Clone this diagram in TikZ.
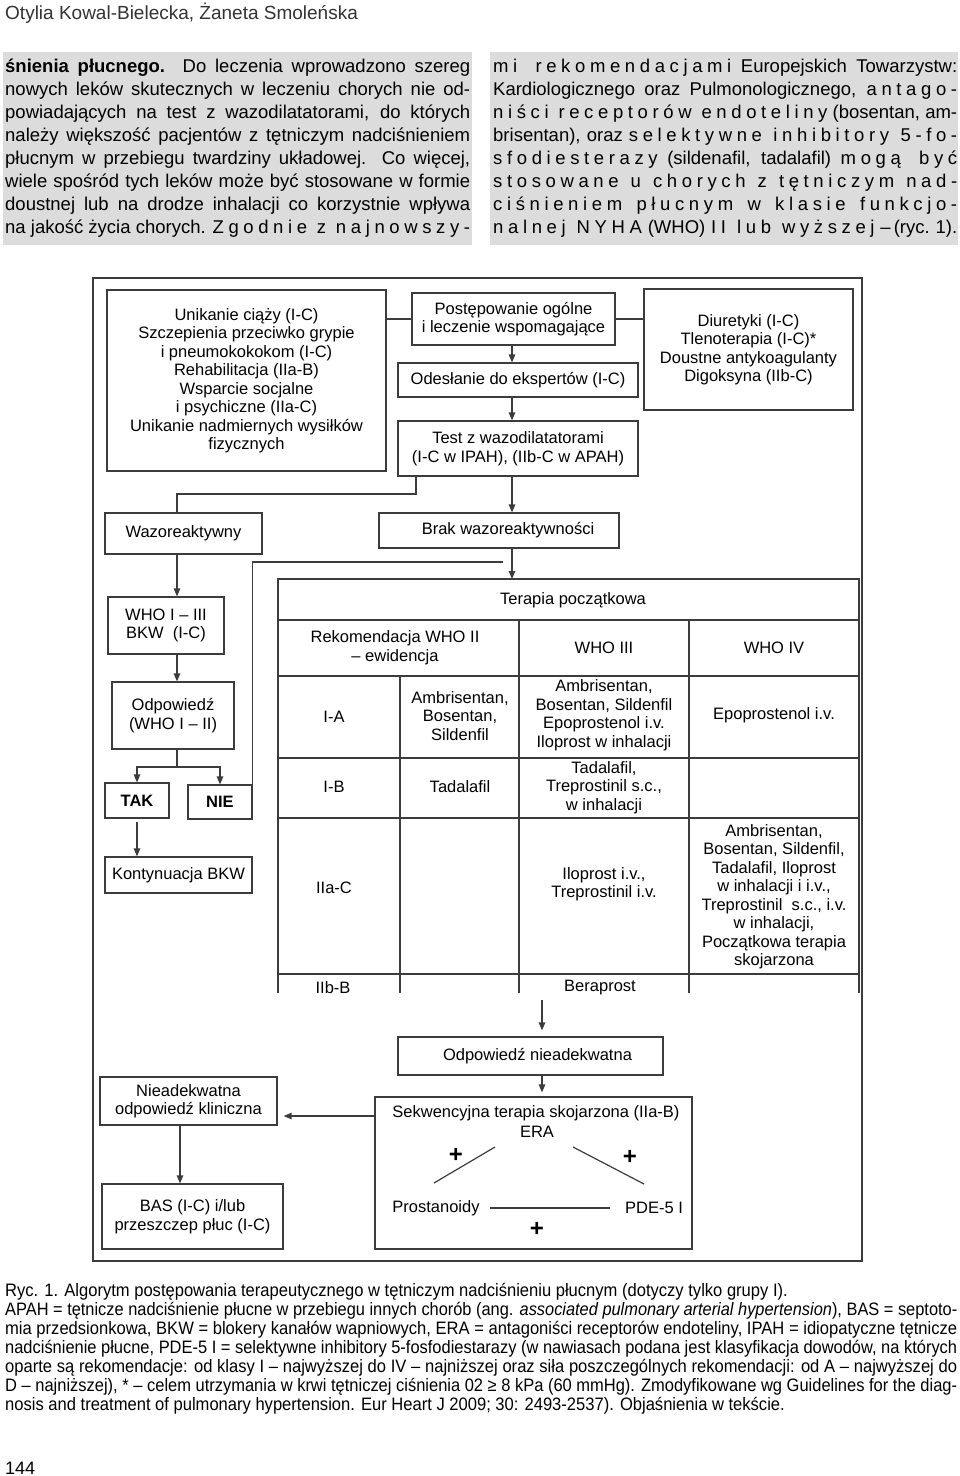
\documentclass[tikz,border=0pt]{standalone}
\usepackage{fontspec}
\usepackage{graphicx}
\setmainfont{Liberation Sans}
\newfontfamily\spaced[LetterSpace=25]{Liberation Sans}
\newfontfamily\narrow[FakeStretch=0.92]{Liberation Sans}
\usetikzlibrary{arrows.meta}
\definecolor{ln}{HTML}{3C3C3C}
\definecolor{bgshade}{HTML}{DCDCDC}
\definecolor{hdr}{HTML}{333333}
\newsavebox\lnbox
\newcommand\jline[2]{\sbox\lnbox{#2}\ifdim\wd\lnbox>#1\relax\resizebox{#1}{\height}{\usebox\lnbox}\else\hbox to #1{#2}\fi}
\begin{document}
\begin{tikzpicture}[x=1pt,y=-1pt, font=\fontsize{16.5}{18.5}\selectfont,
  boxn/.style={draw=ln, line width=1.2pt, inner sep=0pt, align=center},
  arrw/.style={draw=ln, line width=1.2pt, -{Triangle[length=8pt,width=6.5pt]}},
  conn/.style={draw=ln, line width=1.2pt},
  coltxt/.style={anchor=base west, inner sep=0pt, font=\fontsize{18.5}{22}\selectfont},
  captxt/.style={anchor=base west, inner sep=0pt, font=\narrow\fontsize{18}{19}\selectfont},
  celltxt/.style={inner sep=0pt, align=center},
  plustxt/.style={inner sep=0pt, font=\fontsize{24}{24}\selectfont\bfseries}]
\useasboundingbox (0,0) rectangle (960,1476);
\fill[white] (0,0) rectangle (960,1476);
% header
\node[anchor=base west, inner sep=0pt, text=hdr, font=\fontsize{19}{22}\selectfont] (hd) at (5,19) {Otylia Kowal-Bielecka, Żaneta Smoleńska};
% shaded columns
\fill[bgshade] (3,52) rectangle (472,245);
\fill[bgshade] (490,52) rectangle (958,245);
\node[coltxt] (l1) at (5,72) {\jline{465pt}{\textbf{śnienia płucnego.} Do leczenia wprowadzono szereg}};
\node[coltxt] (l2) at (5,95) {\jline{465pt}{nowych leków skutecznych w leczeniu chorych nie od-}};
\node[coltxt] (l3) at (5,118) {\jline{465pt}{powiadających na test z wazodilatatorami, do których}};
\node[coltxt] (l4) at (5,141) {\jline{465pt}{należy większość pacjentów z tętniczym nadciśnieniem}};
\node[coltxt] (l5) at (5,164) {\jline{465pt}{płucnym w przebiegu twardziny układowej. Co więcej,}};
\node[coltxt] (l6) at (5,187) {\jline{465pt}{wiele spośród tych leków może być stosowane w formie}};
\node[coltxt] (l7) at (5,210) {\jline{465pt}{doustnej lub na drodze inhalacji co korzystnie wpływa}};
\node[coltxt] (l8) at (5,233) {\jline{465pt}{na jakość życia chorych. {\spaced Zgodnie z najnowszy-}}};
\node[coltxt] (r1) at (493,72) {\jline{464pt}{{\spaced mi rekomendacjami} Europejskich Towarzystw:}};
\node[coltxt] (r2) at (493,95) {\jline{464pt}{Kardiologicznego oraz Pulmonologicznego, {\spaced antago-}}};
\node[coltxt] (r3) at (493,118) {\jline{464pt}{{\spaced niści receptorów endoteliny} (bosentan, am-}};
\node[coltxt] (r4) at (493,141) {\jline{464pt}{brisentan), oraz {\spaced selektywne inhibitory 5-fo-}}};
\node[coltxt] (r5) at (493,164) {\jline{464pt}{{\spaced sfodiesterazy} (sildenafil, tadalafil) {\spaced mogą być}}};
\node[coltxt] (r6) at (493,187) {\jline{464pt}{{\spaced stosowane u chorych z tętniczym nad-}}};
\node[coltxt] (r7) at (493,210) {\jline{464pt}{{\spaced ciśnieniem płucnym w klasie funkcjo-}}};
\node[coltxt] (r8) at (493,233) {\jline{464pt}{{\spaced nalnej NYHA} (WHO) {\spaced II lub wyższej}~–\,(ryc.~1).}};
% frame
\draw[ln, line width=1.3pt] (93,278) rectangle (862,1261);
% top boxes
\node[boxn, minimum width=279pt, minimum height=181pt] (A) at (246.5,380.5) {Unikanie ciąży (I-C)\\Szczepienia przeciwko grypie\\i pneumokokokom (I-C)\\Rehabilitacja (IIa-B)\\Wsparcie socjalne\\i psychiczne (IIa-C)\\Unikanie nadmiernych wysiłków\\fizycznych};
\node[boxn, minimum width=203pt, minimum height=52pt] (B) at (513.5,319) {Postępowanie ogólne\\i leczenie wspomagające};
\node[boxn, minimum width=240pt, minimum height=34pt] (Od) at (518,380) {Odesłanie do ekspertów (I-C)};
\node[boxn, minimum width=240pt, minimum height=55pt] (Test) at (518,448.5) {Test z wazodilatatorami\\(I-C w IPAH), (IIb-C w APAH)};
\node[boxn, minimum width=209pt, minimum height=121pt] (C) at (748.5,349.5) {Diuretyki (I-C)\\Tlenoterapia (I-C)*\\Doustne antykoagulanty\\Digoksyna (IIb-C)};
% middle boxes
\node[boxn, minimum width=157pt, minimum height=41pt] (Wazo) at (183.5,533.5) {Wazoreaktywny};
\node[boxn, minimum width=240pt, minimum height=35pt] (Brak) at (499,530.5) {\hspace*{18pt}Brak wazoreaktywności};
\node[boxn, minimum width=116pt, minimum height=57pt] (WHO) at (166,625.5) {WHO I – III\\BKW~~(I-C)};
\node[boxn, minimum width=122pt, minimum height=67pt] (Odp) at (173,715.5) {Odpowiedź\\(WHO I – II)};
\node[boxn, minimum width=64pt, minimum height=35pt, font=\fontsize{16.5}{18.5}\selectfont\bfseries] (TAK) at (137,800.5) {TAK};
\node[boxn, minimum width=64pt, minimum height=34pt, font=\fontsize{16.5}{18.5}\selectfont\bfseries] (NIE) at (220,802) {NIE};
\node[boxn, minimum width=147pt, minimum height=36pt] (Kont) at (178.5,875) {Kontynuacja BKW};
% table
\draw[conn] (278,993) -- (278,579) -- (859,579) -- (859,993);
\draw[conn] (278,620) -- (859,620);
\foreach \yy in {676,758,818,974} \draw[conn] (278,\yy) -- (859,\yy);
\draw[conn] (400,676) -- (400,993);
\draw[conn] (519,620) -- (519,993);
\draw[conn] (689,620) -- (689,993);
\node[celltxt] (th) at (573,600) {Terapia początkowa};
\node[celltxt] (tr) at (395,647.5) {Rekomendacja WHO II\\– ewidencja};
\node[celltxt] (t3) at (604,648) {WHO III};
\node[celltxt] (t4) at (774,648) {WHO IV};
\node[celltxt] (ia) at (334,717) {I-A};
\node[celltxt] (ia2) at (460,716) {Ambrisentan,\\Bosentan,\\Sildenfil};
\node[celltxt] (ia3) at (604,715) {Ambrisentan,\\Bosentan, Sildenfil\\Epoprostenol i.v.\\Iloprost w inhalacji};
\node[celltxt] (ia4) at (774,715) {Epoprostenol i.v.};
\node[celltxt] (ib) at (334,787) {I-B};
\node[celltxt] (ib2) at (460,787) {Tadalafil};
\node[celltxt] (ib3) at (604,787.5) {Tadalafil,\\Treprostinil s.c.,\\w inhalacji};
\node[celltxt] (iic) at (334,888) {IIa-C};
\node[celltxt] (iic3) at (604,884) {Iloprost i.v.,\\Treprostinil i.v.};
\node[celltxt] (iic4) at (774,896.5) {Ambrisentan,\\Bosentan, Sildenfil,\\Tadalafil, Iloprost\\w inhalacji i i.v.,\\Treprostinil~~s.c., i.v.\\w inhalacji,\\Początkowa terapia\\skojarzona};
\node[celltxt] (iib) at (333,988) {IIb-B};
\node[celltxt] (iib3) at (600,988) {Beraprost};
% lower boxes
\node[boxn, minimum width=265pt, minimum height=38pt] (OdpN) at (530.5,1056) {\hspace*{14pt}Odpowiedź nieadekwatna};
\node[boxn, minimum width=317pt, minimum height=152pt] (Sek) at (533.5,1173) {};
\node[boxn, minimum width=177pt, minimum height=48pt] (Niead) at (188.5,1101) {Nieadekwatna\\odpowiedź kliniczna};
\node[boxn, minimum width=181pt, minimum height=65pt] (BAS) at (192.5,1216.5) {BAS (I-C) i/lub\\przeszczep płuc (I-C)};
\node[celltxt] (sekt) at (536,1113) {Sekwencyjna terapia skojarzona (IIa-B)};
\node[celltxt] (era) at (537,1132) {ERA};
\node[celltxt] (pros) at (436,1208) {Prostanoidy};
\node[celltxt] (pde) at (654,1208) {PDE-5 I};
\node[plustxt] (p1) at (456,1155) {+};
\node[plustxt] (p2) at (630,1157) {+};
\node[plustxt] (p3) at (537,1229) {+};
\coordinate (e1) at (434,1183); \coordinate (e2) at (495,1147);
\coordinate (e3) at (573,1147); \coordinate (e4) at (644,1184);
\coordinate (e5) at (490,1208); \coordinate (e6) at (610,1208);
\draw[conn] (e1) -- (e2);
\draw[conn] (e3) -- (e4);
\draw[conn] (e5) -- (e6);
% connectors
\coordinate (xa) at (512,0);
\draw[conn] (B.west) -- (B.west -| A.east);
\draw[conn] (B.east) -- (B.east -| C.west);
\draw[arrw] (B.south -| xa) -- (Od.north -| xa);
\draw[arrw] (Od.south -| xa) -- (Test.north -| xa);
\draw[arrw] (Test.south -| xa) -- (Brak.north -| xa);
\coordinate (tw) at (416,494);
\coordinate (wz) at (177,0);
\draw[conn] (Test.south -| tw) -- (tw) -| (Wazo.north -| wz);
\draw[arrw] (Wazo.south -| wz) -- (WHO.north -| wz);
\draw[arrw] (WHO.south -| wz) -- (Odp.north -| wz);
\coordinate (sp) at (177,767);
\draw[conn] (Odp.south -| sp) -- (sp);
\draw[arrw] (sp) -| (TAK.north);
\draw[arrw] (sp) -| (NIE.north);
\draw[arrw, shorten <=3pt] (TAK.south) -- (TAK.south |- Kont.north);
\coordinate (jn) at (503,562);
\draw[conn] (NIE.north east) |- (jn);
\coordinate (tabtop) at (512,579);
\draw[arrw] (Brak.south -| xa) -- (tabtop);
\coordinate (tabbot) at (542,1000);
\draw[arrw, shorten >=6pt] (tabbot) -- (tabbot |- OdpN.north);
\draw[arrw, shorten >=4pt] (OdpN.south -| tabbot) -- (Sek.north -| tabbot);
\coordinate (ys) at (0,1116);
\draw[arrw, shorten >=6pt] (Sek.west |- ys) -- (Niead.east |- ys);
\coordinate (xn) at (180,0);
\draw[arrw] (Niead.south -| xn) -- (BAS.north -| xn);
% caption
\node[captxt] (c1) at (5,1296) {Ryc. 1. Algorytm postępowania terapeutycznego w tętniczym nadciśnieniu płucnym (dotyczy tylko grupy I).};
\node[captxt] (c2) at (5,1315) {\jline{952pt}{APAH = tętnicze nadciśnienie płucne w przebiegu innych chorób (ang. \textit{associated pulmonary arterial hypertension}), BAS = septoto-}};
\node[captxt] (c3) at (5,1334) {\jline{952pt}{mia przedsionkowa, BKW = blokery kanałów wapniowych, ERA = antagoniści receptorów endoteliny, IPAH = idiopatyczne tętnicze}};
\node[captxt] (c4) at (5,1353) {\jline{952pt}{nadciśnienie płucne, PDE-5 I = selektywne inhibitory 5-fosfodiestarazy (w nawiasach podana jest klasyfikacja dowodów, na których}};
\node[captxt] (c5) at (5,1372) {\jline{952pt}{oparte są rekomendacje: od klasy I – najwyższej do IV – najniższej oraz siła poszczególnych rekomendacji: od A – najwyższej do}};
\node[captxt] (c6) at (5,1391) {\jline{952pt}{D – najniższej), * – celem utrzymania w krwi tętniczej ciśnienia 02 ≥ 8 kPa (60 mmHg). Zmodyfikowane wg Guidelines for the diag-}};
\node[captxt] (c7) at (5,1410) {nosis and treatment of pulmonary hypertension. Eur Heart J 2009; 30: 2493-2537). Objaśnienia w tekście.};
\node[anchor=base west, inner sep=0pt, font=\fontsize{18}{20}\selectfont] (pg) at (5,1474) {144};
\end{tikzpicture}
\end{document}
